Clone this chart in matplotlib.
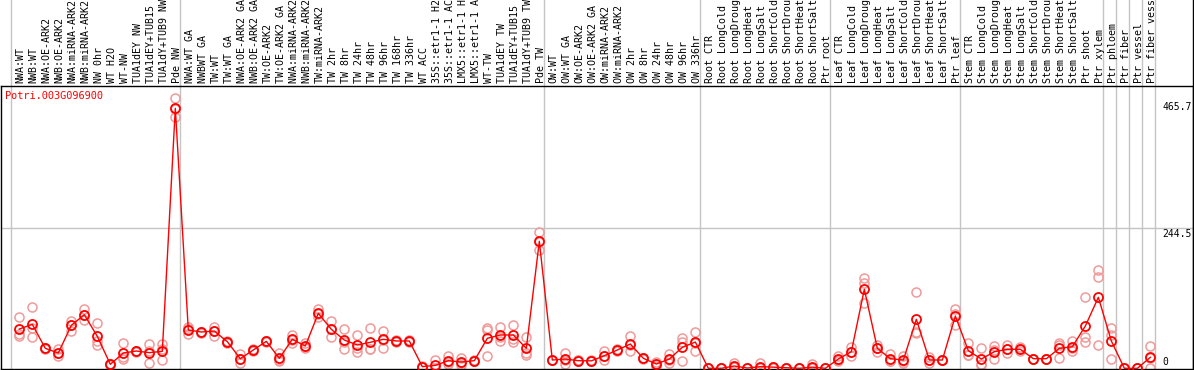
import matplotlib
matplotlib.use('Agg')
import matplotlib.pyplot as plt
import numpy as np

plt.rcParams['font.family'] = ['DejaVu Sans Mono', 'DejaVu Sans']

gene = "Potri.003G096900"

labels = [
    # group 1
    "NWA:WT", "NWB:WT", "NWA:OE-ARK2", "NWB:OE-ARK2", "NWA:miRNA-ARK2", "NWB:miRNA-ARK2",
    "NW 0hr", "WT H2O", "WT-NW", "TUA1dEY NW", "TUA1dEY+TUB15 NW", "TUA1dY+TUB9 NW", "Pde NW",
    # group 2
    "NWA:WT GA", "NWBWT GA", "TW:WT", "TW:WT GA", "NWA:OE-ARK2 GA", "NWB:OE-ARK2 GA",
    "TW:OE-ARK2", "TW:OE-ARK2 GA", "NWA:miRNA-ARK2 GA", "NWB:miRNA-ARK2 GA", "TW:miRNA-ARK2",
    "TW 2hr", "TW 8hr", "TW 24hr", "TW 48hr", "TW 96hr", "TW 168hr", "TW 336hr", "WT ACC",
    "35S::etr1-1 H2O", "35S::etr1-1 ACC", "LMX5::etr1-1 H2O", "LMX5::etr1-1 ACC", "WT-TW",
    "TUA1dEY TW", "TUA1dEY+TUB15 TW", "TUA1dY+TUB9 TW", "Pde TW",
    # group 3
    "OW:WT", "OW:WT GA", "OW:OE-ARK2", "OW:OE-ARK2 GA", "OW:miRNA-ARK2", "OW:miRNA-ARK2 GA",
    "OW 2hr", "OW 8hr", "OW 24hr", "OW 48hr", "OW 96hr", "OW 336hr",
    # root
    "Root CTR", "Root LongCold", "Root LongDrought", "Root LongHeat", "Root LongSalt",
    "Root ShortCold", "Root ShortDrought", "Root ShortHeat", "Root ShortSalt", "Ptr root",
    # leaf
    "Leaf CTR", "Leaf LongCold", "Leaf LongDrought", "Leaf LongHeat", "Leaf LongSalt",
    "Leaf ShortCold", "Leaf ShortDrought", "Leaf ShortHeat", "Leaf ShortSalt", "Ptr leaf",
    # stem
    "Stem CTR", "Stem LongCold", "Stem LongDrought", "Stem LongHeat", "Stem LongSalt",
    "Stem ShortCold", "Stem ShortDrought", "Stem ShortHeat", "Stem ShortSalt", "Ptr shoot",
    "Ptr xylem",
    # single tissues
    "Ptr phloem", "Ptr fiber", "Ptr vessel", "Ptr fiber vessel",
]

means = [
    68.6, 76.8, 34.9, 26.7, 75.0, 93.6, 55.9, 7.0, 26.7, 30.2, 27.3, 29.7, 454.0,
    66.9, 63.4, 65.1, 46.5, 16.8, 32.0, 47.1, 17.5, 50.6, 38.9, 96.0,
    68.1, 49.4, 40.7, 45.4, 50.6, 47.7, 47.7, 2.9, 5.2, 13.3, 11.0, 13.3, 52.4,
    58.2, 58.2, 34.9, 221.8,
    14.5, 16.2, 13.3, 13.0, 22.0, 32.0, 42.4, 17.5, 7.5, 16.2, 36.7, 45.9,
    0.0, 0.0, 4.0, 0.5, 2.9, 2.0, 1.0, 0.0, 2.0, 0.0,
    16.2, 29.0, 138.0, 34.9, 16.8, 14.5, 85.6, 14.5, 14.5, 91.3,
    30.7, 16.2, 29.0, 33.2, 33.2, 16.8, 16.8, 34.9, 37.7, 73.9, 124.0,
    47.7, 0.0, 0.0, 19.2,
]

replicates = [
    [89.6, 55.9, 60], [107, 54.1, 70], [36, 33, 35], [33, 21.5, 26], [83, 65.7, 76],
    [104, 93, 84], [79.7, 40.7, 47], [7, 6, 8], [44.2, 15.7, 20], [30, 29, 31],
    [42.4, 9.8, 29.7], [42, 33, 14.5], [471.5, 438, 452],
    [72.7, 59.4, 68], [64, 62, 64], [72.7, 56.4, 66], [48, 45, 46], [25, 9.8, 16],
    [34, 30, 32], [48, 46, 47], [26.2, 12, 14], [58, 44, 50], [44.7, 35, 37],
    [103, 90, 95], [82, 54.1, 68], [68.1, 33.7, 46], [58.2, 27.9, 36], [69.9, 33.2, 33],
    [65.1, 36, 50], [49, 46, 48], [50, 46, 47], [3, 2, 4], [14.5, 1, 0],
    [21.5, 7.5, 11], [18, 5, 10], [15, 12, 13], [69.9, 67.6, 21.5], [72.7, 47.7, 54],
    [76.1, 46, 52], [54.1, 23.2, 27], [237.5, 206.6, 221],
    [15, 14, 14.5], [26, 7.5, 15], [14, 12, 14], [13, 12, 14], [30.7, 14.5, 21],
    [33, 31, 32], [56.4, 30.2, 40], [18, 17, 17.5], [11, 4, 7.5], [25, 10, 14],
    [52.4, 46.6, 12.7], [63.4, 30.2, 44],
    [0, 0, 0], [0, 0, 0], [8.7, 2, 1.5], [1, 0, 0.5], [8.7, 0, 0], [3, 1, 2], [1, 1, 1],
    [0, 0, 0], [7.5, 0, 0], [0, 0, 0],
    [21.5, 12, 15], [21.5, 37.5, 28], [157, 149.5, 113.5], [40.7, 29, 35], [25, 12, 13],
    [21.5, 10, 12], [132.7, 61, 63], [20, 8.7, 15], [15, 14, 14.5], [103, 95, 76],
    [44.7, 23.2, 24], [34.9, 8, 5.8], [39, 16, 32], [40, 27, 33], [37, 30, 33],
    [17, 16, 17], [17, 16, 17], [44.7, 18.6, 40], [48, 30, 35], [124, 54, 46.6],
    [171, 160, 40.7],
    [69.9, 58.2, 16.2], [0, 0, 0], [0, 0, 0], [38.9, 18, 0],
]

# index of last sample in each block (-1 = left edge)
group_ends = [-1, 12, 40, 52, 62, 72, 83, 84, 85, 86, 87]
ytick_vals = [465.7, 244.5, 0]

W, H = 1194, 370
fig = plt.figure(figsize=(W / 100, H / 100), dpi=100)
ax = fig.add_axes([1 / W, 1 / H, 1192 / W, 283 / H])

x = np.arange(len(labels))
ax.set_xlim(-1.408, 90.28)
ax.set_ylim(-1.2, 493)

# separators through the whole figure height
for g in group_ends:
    ax.axvline(g + 0.36, ymin=-0.01, ymax=1.31, color='#c4c4c4', lw=1, clip_on=False, zorder=0)
ax.axhline(244.5, color='#c4c4c4', lw=1, zorder=0)
ax.plot([1, 1], [0, 1.31], transform=ax.transAxes, color='black', lw=1, clip_on=False)

for i, r in enumerate(replicates):
    ax.plot([i] * len(r), r, ls='none', marker='o', ms=6.5, mfc='none',
            mec='#f09a9a', mew=1.1, zorder=2)
ax.plot(x, means, color='red', lw=1, marker='o', ms=6.5, mfc='none', mec='red',
        mew=1.3, zorder=3)

trans = ax.get_xaxis_transform()
for i, lab in enumerate(labels):
    ax.text(i + 0.1, 1 + 3 / 283, lab, rotation=90, ha='center', va='bottom',
            fontsize=7.2, transform=trans, clip_on=False)

ax.text(4 / 1192, 1 - 5 / 283, gene, color='red', fontsize=7.4, ha='left', va='top',
        transform=ax.transAxes)

ytrans = ax.get_yaxis_transform()
for v in ytick_vals:
    ax.text(0.9745, v + (1.5 if v == 0 else -1), f"{v:g}", fontsize=7, ha='left',
            va='bottom' if v == 0 else 'top', transform=ytrans)

ax.set_xticks([])
ax.set_yticks([])
for s in ax.spines.values():
    s.set_color('black')
    s.set_linewidth(1)

fig.savefig('out.png', dpi=100)
